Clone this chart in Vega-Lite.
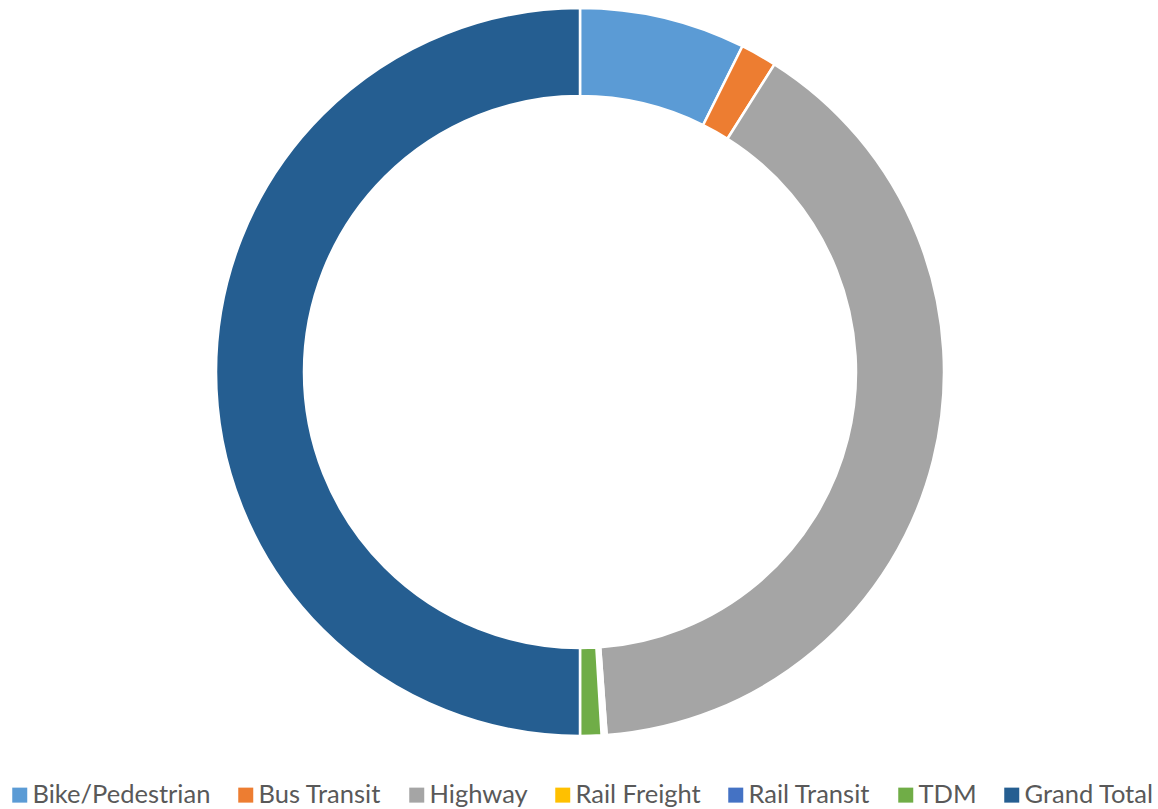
{
  "$schema": "https://vega.github.io/schema/vega-lite/v6.json",
  "width": 1160,
  "height": 744,
  "autosize": {"type": "none"},
  "padding": {"left": 0, "top": 0, "right": 0, "bottom": 65},
  "background": "white",
  "data": {
    "values": [
      {"category": "Bike/Pedestrian", "value": 26.5, "order": 1},
      {"category": "Bus Transit", "value": 5.8, "order": 2},
      {"category": "Highway", "value": 143.5, "order": 3},
      {"category": "Rail Freight", "value": 0.4, "order": 4},
      {"category": "Rail Transit", "value": 0.4, "order": 5},
      {"category": "TDM", "value": 3.4, "order": 6},
      {"category": "Grand Total", "value": 180, "order": 7}
    ]
  },
  "mark": {"type": "arc", "outerRadius": 364, "innerRadius": 276, "stroke": "white", "strokeWidth": 2.5},
  "encoding": {
    "theta": {"field": "value", "type": "quantitative", "stack": true},
    "order": {"field": "order", "type": "quantitative"},
    "color": {
      "field": "category",
      "type": "nominal",
      "scale": {
        "domain": ["Bike/Pedestrian", "Bus Transit", "Highway", "Rail Freight", "Rail Transit", "TDM", "Grand Total"],
        "range": ["#5B9BD5", "#ED7D31", "#A5A5A5", "#FFC000", "#4472C4", "#70AD47", "#255E91"]
      },
      "legend": {
        "title": null,
        "orient": "none",
        "direction": "horizontal",
        "columns": 7,
        "legendX": 7,
        "legendY": 782,
        "symbolType": "square",
        "symbolSize": 225,
        "symbolStrokeWidth": 0,
        "labelFont": "Lato",
        "labelFontSize": 25.5,
        "labelColor": "#595959",
        "labelOffset": 0,
        "columnPadding": 22,
        "labelLimit": 400
      }
    }
  }
}
